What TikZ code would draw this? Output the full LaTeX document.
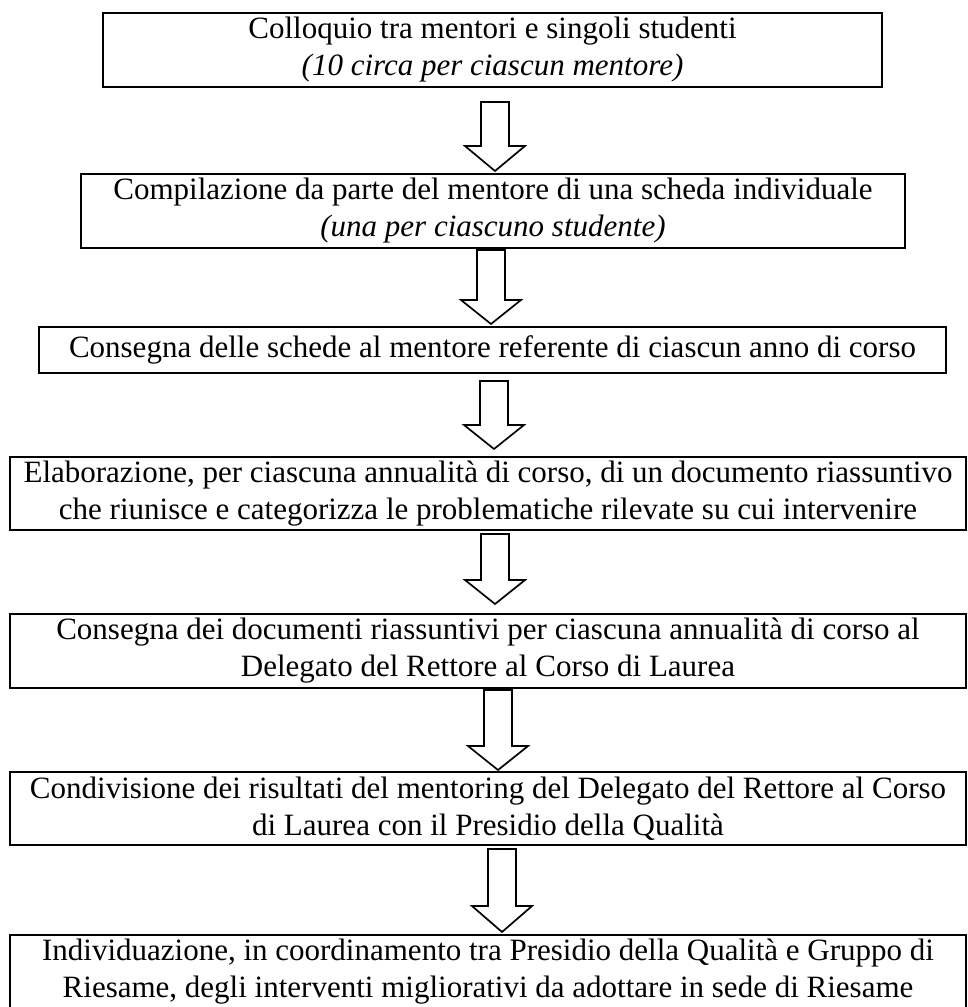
\documentclass[tikz,border=0pt]{standalone}
\usepackage{fontspec}
\setmainfont{Liberation Serif}
\newcommand\blockarr[4]{% x, ytop, yhead, ytip
  \draw[blockarrow] ({#1-14},#2) -- ({#1+14},#2) -- ({#1+14},#3) -- ({#1+30},#3) -- (#1,#4) -- ({#1-30},#3) -- ({#1-14},#3) -- cycle;}
\begin{document}
\begin{tikzpicture}[x=1pt,y=-1pt,
  box/.style={draw, line width=2.6pt, align=center, inner sep=0pt, font=\fontsize{31}{37}\selectfont},
  blockarrow/.style={draw, line width=1.7pt, fill=white, line join=miter}]
\useasboundingbox[fill=white] (0,0) rectangle (968,1007);
\node[box, minimum width=779pt, minimum height=74pt] (b1) at (492.5,50)
  {Colloquio tra mentori e singoli studenti\\\textit{(10 circa per ciascun mentore)}};
\node[box, minimum width=824pt, minimum height=74pt] (b2) at (493,211)
  {Compilazione da parte del mentore di una scheda individuale\\\textit{(una per ciascuno studente)}};
\node[box, minimum width=907pt, minimum height=46pt] (b3) at (492.5,350)
  {Consegna delle schede al mentore referente di ciascun anno di corso};
\node[box, minimum width=956pt, minimum height=73pt] (b4) at (488,493.5)
  {Elaborazione, per ciascuna annualità di corso, di un documento riassuntivo\\che riunisce e categorizza le problematiche rilevate su cui intervenire};
\node[box, minimum width=956pt, minimum height=74pt] (b5) at (488,651)
  {Consegna dei documenti riassuntivi per ciascuna annualità di corso al\\Delegato del Rettore al Corso di Laurea};
\node[box, minimum width=956pt, minimum height=73pt] (b6) at (488,808.5)
  {Condivisione dei risultati del mentoring del Delegato del Rettore al Corso\\di Laurea con il Presidio della Qualità};
\node[box, minimum width=956pt, minimum height=74pt] (b7) at (488,972)
  {Individuazione, in coordinamento tra Presidio della Qualità e Gruppo di\\Riesame, degli interventi migliorativi da adottare in sede di Riesame};
\blockarr{495}{102}{146}{171}
\blockarr{491}{250}{300}{324}
\blockarr{494}{381}{425}{449}
\blockarr{495}{534}{580}{604}
\blockarr{498}{690}{746}{770}
\blockarr{502}{849}{906}{932}
\end{tikzpicture}
\end{document}
